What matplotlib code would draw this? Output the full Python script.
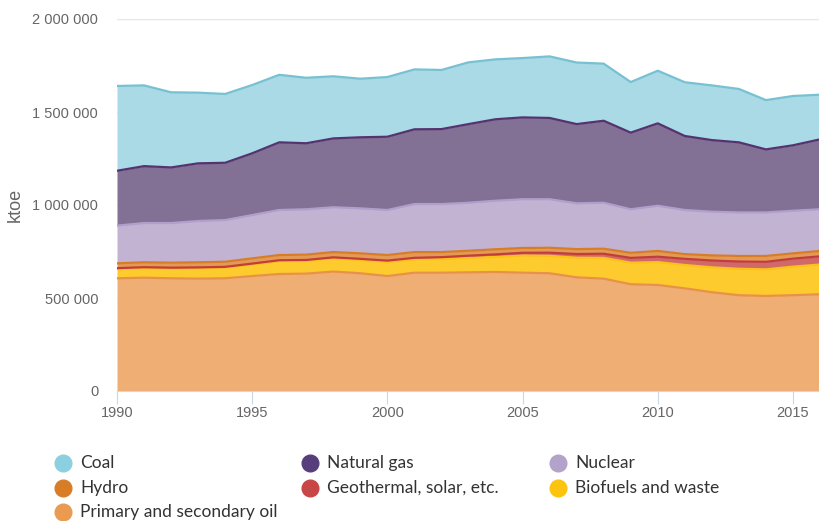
import numpy as np
import matplotlib.pyplot as plt
from matplotlib.lines import Line2D

years = np.arange(1990, 2017)

# ktoe (stacked bottom to top)
oil = [606000, 609000, 606000, 604000, 606000, 618000, 629000, 631000, 642000,
       633000, 618000, 636000, 636000, 638000, 640000, 636000, 633000, 611000,
       604000, 574000, 570000, 552000, 531000, 515000, 511000, 515000, 520000]
biofuels = [51000, 52800, 53100, 56400, 57100, 62200, 68800, 67800, 70200,
            70500, 74800, 71000, 73000, 77500, 81000, 92000, 93500, 105500,
            111500, 116000, 123000, 125500, 134000, 142000, 143000, 153500, 160000]
geothermal = [3500, 3700, 3900, 4100, 4400, 4800, 5200, 5700, 6300, 7000, 8200,
              9000, 10500, 12000, 13500, 15000, 17000, 20000, 22500, 25500,
              29000, 33000, 36500, 39000, 40500, 43000, 44000]
hydro = [26000, 26500, 27000, 27500, 27500, 28000, 28000, 28500, 28500, 29500,
         30000, 31000, 27500, 26500, 27500, 26000, 26500, 26500, 27000, 27500,
         31000, 25500, 27500, 30000, 31500, 28500, 29000]
nuclear = [202500, 211000, 213000, 222000, 224000, 233000, 242000, 244000,
           241000, 242000, 242000, 258000, 258000, 258000, 261000, 262000,
           261000, 246000, 247000, 234000, 243000, 237000, 235000, 234000,
           234000, 229000, 224000]
gas = [295000, 306000, 299000, 310000, 308000, 332000, 364000, 355000, 370000,
       382000, 394000, 402000, 403000, 423000, 438000, 440000, 437000, 426000,
       441000, 412000, 443000, 398000, 385000, 377000, 339000, 352000, 376000]
coal = [456000, 434000, 404000, 380000, 370000, 367000, 363000, 352000, 334000,
        315000, 321000, 322000, 318000, 332000, 322000, 319000, 331000, 331000,
        307000, 272000, 283000, 289000, 294000, 287000, 265000, 265000, 240000]

series = [
    ("Primary and secondary oil", oil, "#efae74", "#e8914a", "#eb9a52"),
    ("Biofuels and waste", biofuels, "#fdcb2e", "#fbc21a", "#fcc30f"),
    ("Geothermal, solar, etc.", geothermal, "#d06a6a", "#c23c3c", "#c84646"),
    ("Hydro", hydro, "#e39a55", "#d97c26", "#d97c26"),
    ("Nuclear", nuclear, "#c2b3d3", "#b19fcb", "#b3a3cb"),
    ("Natural gas", gas, "#827095", "#55336f", "#573d7c"),
    ("Coal", coal, "#a9dae5", "#77c1d2", "#8ccfe0"),
]

fig = plt.figure(figsize=(8.2, 5.21), dpi=100)
ax = fig.add_axes([117 / 820, 1 - 391 / 521, 1 - 117 / 820, 372 / 521])

base = np.zeros(len(years))
for name, vals, fill, line, _ in series:
    top = base + np.array(vals)
    ax.fill_between(years, base, top, color=fill, lw=0, zorder=2)
    ax.plot(years, top, color=line, lw=1.6, zorder=3)
    base = top

ax.set_xlim(1990, 2016)
ax.set_ylim(0, 2000000)
ax.set_yticks([0, 500000, 1000000, 1500000, 2000000])
ax.set_yticklabels(["0", "500 000", "1 000 000", "1 500 000", "2 000 000"])
ax.set_xticks([1990, 1995, 2000, 2005, 2010, 2015])
ax.grid(axis="y", color="#e6e6e6", lw=1, zorder=1)
ax.grid(axis="x", visible=False)
for s in ["top", "right", "left"]:
    ax.spines[s].set_visible(False)
ax.spines["bottom"].set_color("#ccd6eb")
ax.spines["bottom"].set_zorder(4)
ax.tick_params(axis="y", length=0, pad=13.5, labelsize=10.5, labelcolor="#666666")
ax.tick_params(axis="x", length=9, color="#ccd6eb", labelsize=10.5,
               labelcolor="#666666", pad=2)
for lab in ax.get_xticklabels() + ax.get_yticklabels():
    lab.set_family("Liberation Sans")
ax.set_ylabel("ktoe", fontsize=13, color="#666666", family="Liberation Sans")
ax.yaxis.set_label_coords(-0.133, 0.5)

# legend, laid out row by row like the reference
legend_order = ["Coal", "Natural gas", "Nuclear", "Hydro",
                "Geothermal, solar, etc.", "Biofuels and waste",
                "Primary and secondary oil"]
colors = {name: mk for name, _, _, _, mk in series}
col_x = [63, 310, 558]
row_y = [463, 488, 512]
for i, name in enumerate(legend_order):
    x = col_x[i % 3]
    y = row_y[i // 3]
    fig.add_artist(Line2D([x / 820], [1 - y / 521], marker="o", markersize=12,
                          color=colors[name], lw=0, transform=fig.transFigure))
    fig.text((x + 17) / 820, 1 - y / 521, name, fontsize=12.5, color="#333333",
             va="center", ha="left", family="Lato")

fig.savefig("out.png", dpi=100)
